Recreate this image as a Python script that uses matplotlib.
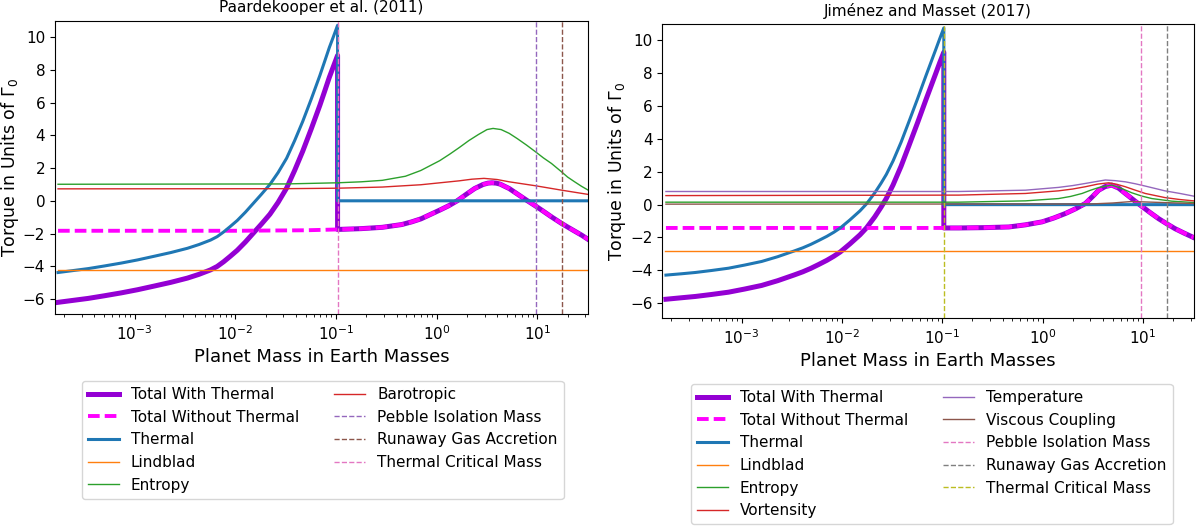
import matplotlib
matplotlib.use("Agg")
import matplotlib.pyplot as plt
import numpy as np

# masses are given as log10(M / M_earth), torques in units of Gamma_0

# ---- Paardekooper et al. (2011) ----
p11_thermal_logm = [-3.76, -3.61, -3.46, -3.30, -3.13, -2.97, -2.80, -2.64, -2.475, -2.36,
                    -2.246, -2.18, -2.115, -2.05, -1.98, -1.90, -1.82, -1.74, -1.656, -1.575,
                    -1.49, -1.41, -1.33, -1.245, -1.16, -1.113, -1.066, -1.025, -0.984,
                    -0.984, 1.505]
p11_thermal = [-4.38, -4.26, -4.14, -3.98, -3.80, -3.61, -3.38, -3.16, -2.90, -2.67,
               -2.40, -2.19, -1.90, -1.57, -1.20, -0.70, -0.15, 0.40, 1.00, 1.72,
               2.60, 3.68, 4.85, 6.22, 7.65, 8.50, 9.36, 10.03, 10.72,
               0.0, 0.0]

p11_total_logm = [-3.76, -3.61, -3.46, -3.30, -3.13, -2.97, -2.80, -2.64, -2.475, -2.36,
                  -2.246, -2.18, -2.115, -2.05, -1.98, -1.90, -1.82, -1.74, -1.656, -1.575,
                  -1.49, -1.41, -1.33, -1.245, -1.16, -1.113, -1.066, -1.025, -0.984]
p11_total = [-6.20, -6.08, -5.96, -5.80, -5.62, -5.43, -5.20, -4.98, -4.72, -4.49,
             -4.22, -4.01, -3.72, -3.39, -3.02, -2.52, -1.97, -1.42, -0.82, -0.10,
             0.78, 1.86, 3.03, 4.40, 5.83, 6.68, 7.54, 8.21, 8.88]

p11_nothermal_logm = [-3.76, -2.0, -1.3, -0.984, -0.75, -0.54, -0.347, -0.25, -0.155, 0.03,
                      0.12, 0.204, 0.29, 0.377, 0.462, 0.51, 0.549, 0.59, 0.63, 0.72,
                      0.80, 0.892, 0.978, 1.06, 1.14, 1.24, 1.30, 1.37, 1.44, 1.505]
p11_nothermal = [-1.83, -1.83, -1.80, -1.75, -1.70, -1.62, -1.45, -1.29, -1.10, -0.57,
                 -0.30, 0.0, 0.38, 0.75, 1.00, 1.08, 1.10, 1.08, 1.02, 0.75,
                 0.42, 0.04, -0.30, -0.64, -0.98, -1.38, -1.60, -1.85, -2.10, -2.36]

p11_lindblad = -4.25

p11_entropy_logm = [-3.76, -1.5, -0.984, -0.75, -0.54, -0.31, -0.158, 0.03, 0.13, 0.224,
                    0.32, 0.415, 0.50, 0.56, 0.64, 0.72, 0.80, 0.893, 0.98, 1.06,
                    1.14, 1.24, 1.30, 1.37, 1.44, 1.505]
p11_entropy = [1.01, 1.03, 1.10, 1.16, 1.25, 1.50, 1.85, 2.45, 2.85, 3.25,
               3.68, 4.05, 4.35, 4.42, 4.35, 4.12, 3.80, 3.40, 3.00, 2.62,
               2.28, 1.77, 1.45, 1.16, 0.88, 0.65]

p11_baro_logm = [-3.76, -1.5, -0.984, -0.54, -0.158, 0.224, 0.35, 0.47, 0.60, 0.72,
                 0.98, 1.24, 1.505]
p11_baro = [0.73, 0.74, 0.77, 0.84, 0.98, 1.22, 1.32, 1.37, 1.30, 1.16,
            0.92, 0.65, 0.39]

# pebble isolation, runaway gas accretion, thermal critical mass (Earth masses)
p11_vlines = [9.7, 17.5, 0.104]

# ---- Jimenez and Masset (2017) ----
jm_thermal_logm = [-3.754, -3.60, -3.46, -3.30, -3.13, -2.97, -2.80, -2.64, -2.475, -2.39,
                   -2.31, -2.23, -2.15, -2.08, -2.016, -1.92, -1.82, -1.754, -1.672, -1.61,
                   -1.557, -1.49, -1.41, -1.33, -1.245, -1.164, -1.115, -1.066, -1.025, -0.984,
                   -0.984, 1.505]
jm_thermal = [-4.29, -4.21, -4.13, -4.01, -3.87, -3.68, -3.46, -3.17, -2.82, -2.63,
              -2.42, -2.18, -1.93, -1.68, -1.42, -0.93, -0.38, 0.05, 0.72, 1.30,
              1.84, 2.66, 3.80, 5.08, 6.46, 7.82, 8.62, 9.42, 10.10, 10.76,
              0.0, 0.0]

jm_total_logm = [-3.754, -3.60, -3.46, -3.30, -3.13, -2.97, -2.80, -2.64, -2.475, -2.39,
                 -2.31, -2.23, -2.15, -2.08, -2.016, -1.92, -1.82, -1.754, -1.672, -1.61,
                 -1.557, -1.49, -1.41, -1.33, -1.245, -1.164, -1.115, -1.066, -1.025, -0.984]
jm_total = [-5.76, -5.67, -5.59, -5.47, -5.33, -5.14, -4.92, -4.63, -4.28, -4.09,
            -3.88, -3.64, -3.39, -3.14, -2.88, -2.39, -1.84, -1.41, -0.74, -0.16,
            0.38, 1.20, 2.34, 3.62, 5.00, 6.36, 7.16, 7.96, 8.64, 9.28]

jm_nothermal_logm = [-3.754, -0.984, -0.835, -0.58, -0.336, -0.17, -0.005, 0.11, 0.228, 0.33,
                     0.427, 0.50, 0.56, 0.625, 0.69, 0.76, 0.825, 0.90, 0.974, 1.065,
                     1.156, 1.24, 1.32, 1.41, 1.505]
jm_nothermal = [-1.42, -1.42, -1.42, -1.40, -1.36, -1.23, -1.05, -0.82, -0.54, -0.25,
                0.07, 0.50, 0.88, 1.10, 1.19, 1.00, 0.68, 0.32, -0.03, -0.45,
                -0.85, -1.17, -1.46, -1.73, -2.00]

jm_lindblad = -2.80

jm_entropy_logm = [-3.754, -0.835, -0.17, 0.16, 0.28, 0.394, 0.48, 0.56, 0.69, 0.79,
                   0.89, 0.99, 1.09, 1.29, 1.505]
jm_entropy = [0.15, 0.15, 0.23, 0.37, 0.50, 0.68, 0.88, 1.04, 1.19, 0.98,
              0.72, 0.52, 0.37, 0.21, 0.13]

jm_vort_logm = [-3.754, -0.835, -0.17, 0.16, 0.30, 0.427, 0.55, 0.66, 0.74, 0.825,
                0.925, 1.024, 1.22, 1.37, 1.505]
jm_vort = [0.55, 0.58, 0.68, 0.84, 0.95, 1.09, 1.25, 1.33, 1.24, 1.09,
           0.88, 0.68, 0.43, 0.31, 0.23]

jm_temp_logm = [-3.754, -0.835, -0.17, 0.16, 0.30, 0.427, 0.53, 0.626, 0.725, 0.825,
                0.925, 1.024, 1.22, 1.37, 1.505]
jm_temp = [0.80, 0.80, 0.88, 1.05, 1.16, 1.29, 1.40, 1.50, 1.46, 1.39,
           1.27, 1.13, 0.84, 0.68, 0.52]

jm_visc_logm = [-3.754, 0.48, 0.70, 0.89, 1.09, 1.29, 1.505]
jm_visc = [0.03, 0.04, 0.10, 0.19, 0.15, 0.11, 0.07]

jm_vlines = [9.6, 17.5, 0.104]

full_logm = [-3.76, 1.505]


def m(logm):
    return 10.0 ** np.asarray(logm)


def total_with(tl, t, nl, n):
    # past the critical mass the total follows the curve without thermal torque
    lm = list(tl) + [x for x in nl if x >= tl[-1]]
    v = list(t) + [y for x, y in zip(nl, n) if x >= tl[-1]]
    return lm, v


fig = plt.figure(figsize=(12, 5.29), dpi=100)
ax1 = fig.add_axes([0.0458, 0.4059, 0.4444, 0.555])
ax2 = fig.add_axes([0.5519, 0.398, 0.4427, 0.5567])


def base_lines(ax, tl, t, nl, n, thl, th, lind):
    lm, v = total_with(tl, t, nl, n)
    ax.plot(m(lm), v, color="#9400D3", lw=3.6, label="Total With Thermal")
    ax.plot(m(nl), n, color="#FF00FF", lw=2.8, dashes=(3.0, 1.3),
            label="Total Without Thermal")
    ax.plot(m(thl), th, color="C0", lw=2.2, label="Thermal")
    ax.plot(m(full_logm), [lind, lind], color="C1", lw=1.0, label="Lindblad")


# left panel
base_lines(ax1, p11_total_logm, p11_total, p11_nothermal_logm, p11_nothermal,
           p11_thermal_logm, p11_thermal, p11_lindblad)
ax1.plot(m(p11_entropy_logm), p11_entropy, color="C2", lw=1.0, label="Entropy")
ax1.plot(m(p11_baro_logm), p11_baro, color="C3", lw=1.0, label="Barotropic")
ax1.axvline(p11_vlines[0], color="C4", ls="--", lw=1.0, label="Pebble Isolation Mass")
ax1.axvline(p11_vlines[1], color="C5", ls="--", lw=1.0, label="Runaway Gas Accretion")
ax1.axvline(p11_vlines[2], color="C6", ls="--", lw=1.0, label="Thermal Critical Mass")
ax1.set_title("Paardekooper et al. (2011)", fontsize=11)

# right panel
base_lines(ax2, jm_total_logm, jm_total, jm_nothermal_logm, jm_nothermal,
           jm_thermal_logm, jm_thermal, jm_lindblad)
ax2.plot(m(jm_entropy_logm), jm_entropy, color="C2", lw=1.0, label="Entropy")
ax2.plot(m(jm_vort_logm), jm_vort, color="C3", lw=1.0, label="Vortensity")
ax2.plot(m(jm_temp_logm), jm_temp, color="C4", lw=1.0, label="Temperature")
ax2.plot(m(jm_visc_logm), jm_visc, color="C5", lw=1.0, label="Viscous Coupling")
ax2.axvline(jm_vlines[0], color="C6", ls="--", lw=1.0, label="Pebble Isolation Mass")
ax2.axvline(jm_vlines[1], color="C7", ls="--", lw=1.0, label="Runaway Gas Accretion")
ax2.axvline(jm_vlines[2], color="C8", ls="--", lw=1.0, label="Thermal Critical Mass")
ax2.set_title("Jiménez and Masset (2017)", fontsize=11)

for ax in (ax1, ax2):
    ax.set_xscale("log")
    ax.set_xlim(1.62e-4, 32.0)
    ax.set_ylim(-6.93, 11.0)
    ax.set_yticks(np.arange(-6, 11, 2))
    ax.tick_params(labelsize=11)
    ax.set_xlabel("Planet Mass in Earth Masses", fontsize=13)
    ax.set_ylabel(r"Torque in Units of $\Gamma_0$", fontsize=12.5, labelpad=1.5)

ax1.legend(loc="upper left", bbox_to_anchor=(0.0683, 0.2798),
           bbox_transform=fig.transFigure, borderaxespad=0.0,
           ncol=2, fontsize=11, columnspacing=2.3)
ax2.legend(loc="upper left", bbox_to_anchor=(0.5758, 0.2741),
           bbox_transform=fig.transFigure, borderaxespad=0.0,
           ncol=2, fontsize=11, columnspacing=2.3)

fig.savefig("out.png", dpi=100)
